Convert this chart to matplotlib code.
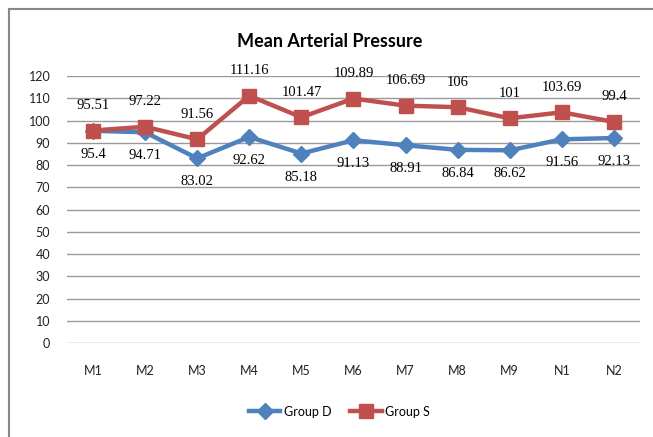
import numpy as np
import matplotlib
matplotlib.use("Agg")
import matplotlib.pyplot as plt
from matplotlib.patches import Rectangle

categories = ["M1", "M2", "M3", "M4", "M5", "M6", "M7", "M8", "M9", "N1", "N2"]
group_d = [95.4, 94.71, 83.02, 92.62, 85.18, 91.13, 88.91, 86.84, 86.62, 91.56, 92.13]
group_s = [95.51, 97.22, 91.56, 111.16, 101.47, 109.89, 106.69, 106, 101, 103.69, 99.4]
yticks = list(range(0, 121, 10))

blue = "#4F81BD"
red = "#C0504D"

fig = plt.figure(figsize=(6.53, 4.37), dpi=100)
ax = fig.add_axes([0.1026, 0.215, 0.8774, 0.611])

x = np.arange(len(categories))
ax.plot(x, group_d, color=blue, lw=3.2, marker="D", ms=8, label="Group D", zorder=3)
ax.plot(x, group_s, color=red, lw=3.2, marker="s", ms=9.5, label="Group S", zorder=4)

for xi, v in zip(x, group_d):
    ax.annotate(f"{v:g}", (xi, v), xytext=(0, -17), textcoords="offset points",
                ha="center", va="center", fontsize=10.5, family="Liberation Serif")
for xi, v in zip(x, group_s):
    ax.annotate(f"{v:g}", (xi, v), xytext=(0, 18), textcoords="offset points",
                ha="center", va="center", fontsize=10.5, family="Liberation Serif")

ax.set_xlim(-0.5, len(categories) - 0.5)
ax.set_ylim(0, 120)
ax.set_yticks(yticks)
ax.set_xticks(x)
ax.set_xticklabels(categories)
ax.grid(axis="y", color="#999999", lw=1)
ax.set_axisbelow(True)
for s in ax.spines.values():
    s.set_visible(False)
ax.tick_params(length=0, labelsize=9, pad=16)
ax.tick_params(axis="y", pad=12)
for lab in ax.get_xticklabels() + ax.get_yticklabels():
    lab.set_family("Lato")
    lab.set_color("#222222")

fig.text(0.505, 0.905, "Mean Arterial Pressure", ha="center", va="center",
         fontsize=13, fontweight="bold", family="Lato")

fig.legend(loc="center", bbox_to_anchor=(0.52, 0.058), ncol=2, frameon=False,
           prop={"family": "Lato", "size": 9}, handlelength=2.5, columnspacing=1.5,
           handletextpad=0.3)

fig.patches.append(Rectangle((9 / 653, -0.1), 1.2, 1 - 9 / 437 + 0.1,
                             transform=fig.transFigure, fill=False,
                             edgecolor="#888888", lw=1.5))

fig.savefig("out.png", dpi=100)
